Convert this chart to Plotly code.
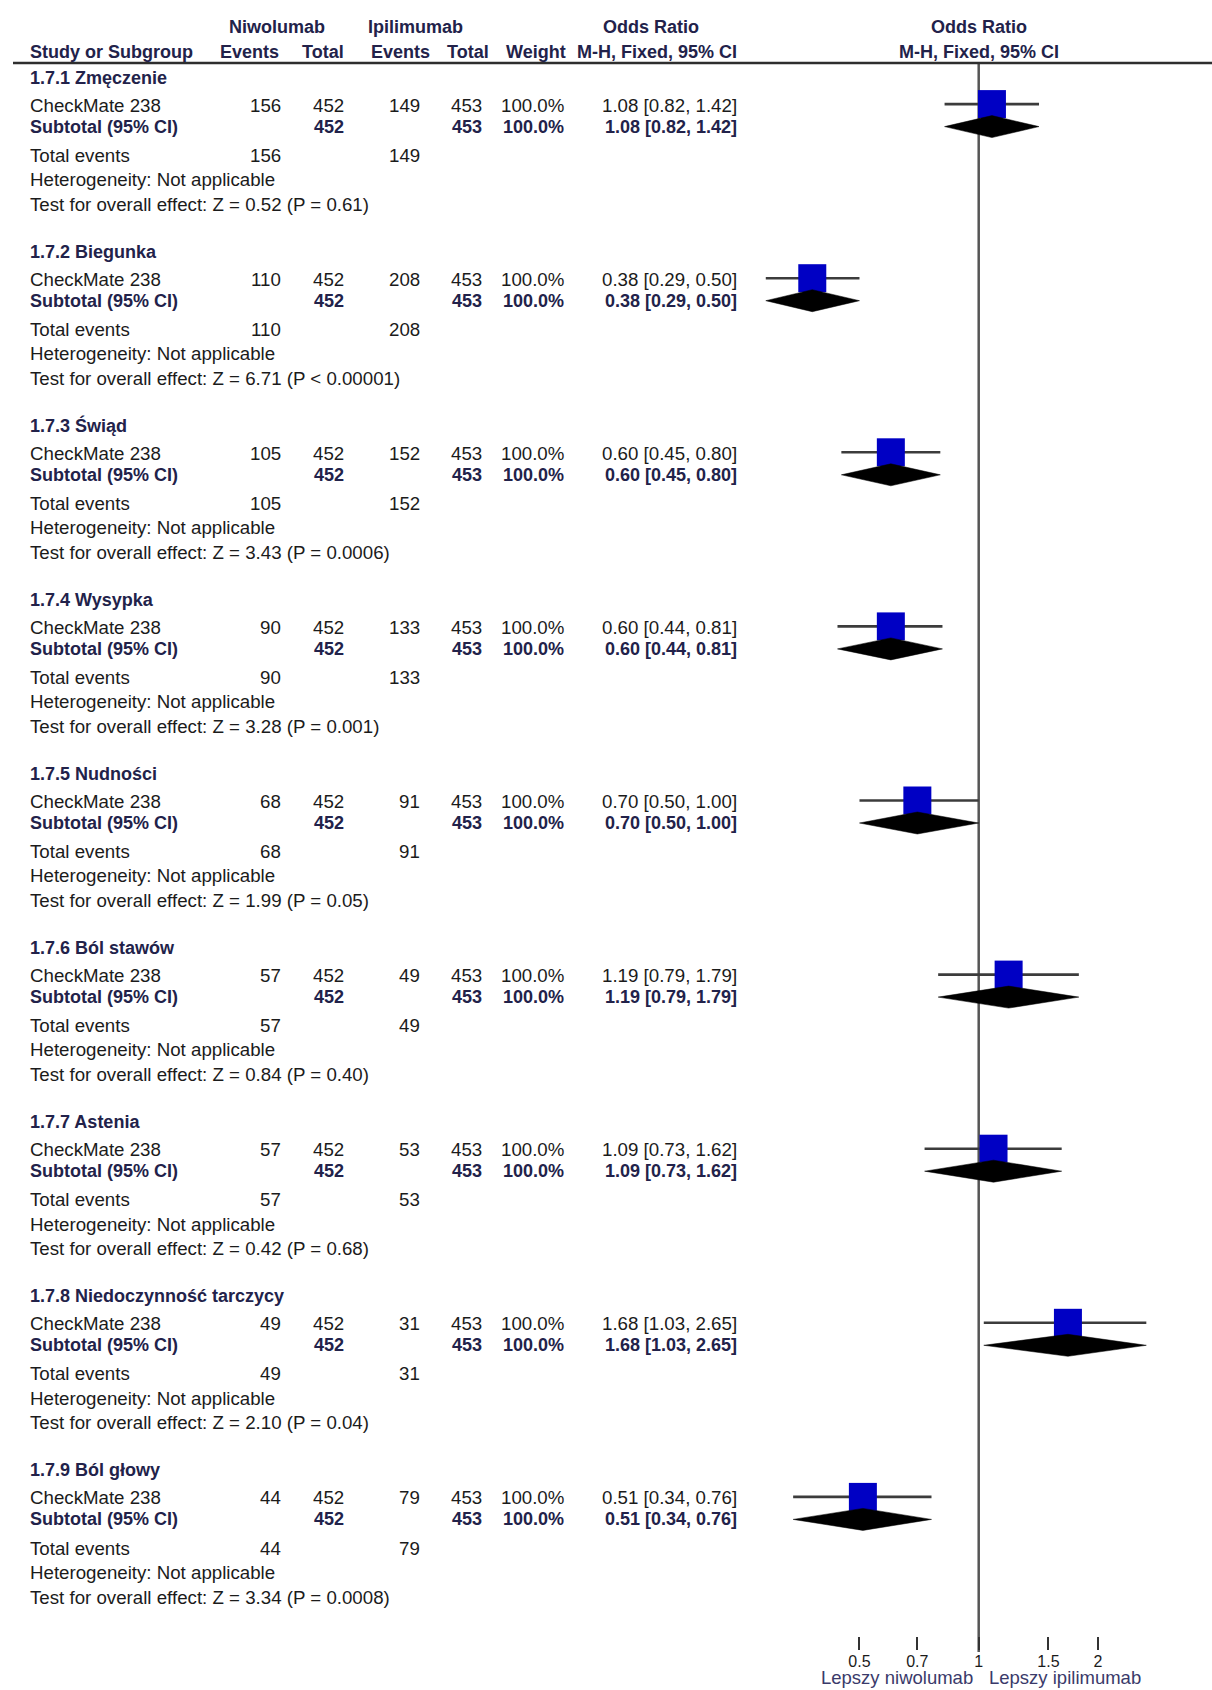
import math
import plotly.graph_objects as go

# ---------------- data ----------------
groups = ["1.7.1 Zmęczenie", "1.7.2 Biegunka", "1.7.3 Świąd", "1.7.4 Wysypka",
          "1.7.5 Nudności", "1.7.6 Ból stawów", "1.7.7 Astenia",
          "1.7.8 Niedoczynność tarczycy", "1.7.9 Ból głowy"]
study_name = "CheckMate 238"
nivo_events = [156, 110, 105, 90, 68, 57, 57, 49, 44]
nivo_total = [452, 452, 452, 452, 452, 452, 452, 452, 452]
ipi_events = [149, 208, 152, 133, 91, 49, 53, 31, 79]
ipi_total = [453, 453, 453, 453, 453, 453, 453, 453, 453]
weights = [100.0, 100.0, 100.0, 100.0, 100.0, 100.0, 100.0, 100.0, 100.0]
odds_ratio = [1.08, 0.38, 0.60, 0.60, 0.70, 1.19, 1.09, 1.68, 0.51]
ci_low = [0.82, 0.29, 0.45, 0.44, 0.50, 0.79, 0.73, 1.03, 0.34]
ci_high = [1.42, 0.50, 0.80, 0.81, 1.00, 1.79, 1.62, 2.65, 0.76]
z_values = ["0.52", "6.71", "3.43", "3.28", "1.99", "0.84", "0.42", "2.10", "3.34"]
p_values = ["P = 0.61", "P < 0.00001", "P = 0.0006", "P = 0.001", "P = 0.05",
            "P = 0.40", "P = 0.68", "P = 0.04", "P = 0.0008"]
tick_values = [0.5, 0.7, 1, 1.5, 2]
tick_labels = ["0.5", "0.7", "1", "1.5", "2"]
favours_left = "Lepszy niwolumab"
favours_right = "Lepszy ipilimumab"

# ---------------- layout constants ----------------
W, H = 1212, 1690
AXIS_Y = 1650            # pixel row of the x axis
X_ONE = 978.7            # pixel column of OR = 1
PX_PER_LN = 172.0        # pixels per natural-log unit
PX_PER_LOG10 = PX_PER_LN * math.log(10)
x_range = [(0 - X_ONE) / PX_PER_LOG10, (W - X_ONE) / PX_PER_LOG10]
one_paper = (math.log10(1) - x_range[0]) / (x_range[1] - x_range[0])

GROUP_TOP = 77.6
GROUP_STEP = 174.1
OFF_STUDY, OFF_SUB, OFF_TOT, OFF_HET, OFF_TEST = 27.5, 49.0, 77.6, 101.8, 126.6

FONT = "Liberation Sans, Arial, sans-serif"
FS_REG = 18.7
FS_BOLD = 18
TXT = "#1b1b1b"
BOLD = "#22224a"

fig = go.Figure()


def label(xpx, y, s, anchor="left", bold=False, size=None, color=None):
    fig.add_annotation(
        xref="paper", x=xpx / W, yref="y", y=y, text=("<b>%s</b>" % s) if bold else s,
        showarrow=False, xanchor=anchor, yanchor="middle",
        font=dict(family=FONT, size=size or (FS_BOLD if bold else FS_REG),
                  color=color or (BOLD if bold else TXT)),
    )


# header
label(277, 27, "Niwolumab", "center", True)
label(415, 27, "Ipilimumab", "center", True)
label(651, 27, "Odds Ratio", "center", True)
label(X_ONE, 27, "Odds Ratio", "center", True)
label(28, 51.7, "Study or Subgroup", "left", True)
label(281, 51.7, "Events", "right", True)
label(346, 51.7, "Total", "right", True)
label(432, 51.7, "Events", "right", True)
label(491, 51.7, "Total", "right", True)
label(568, 51.7, "Weight", "right", True)
label(739, 51.7, "M-H, Fixed, 95% CI", "right", True)
label(X_ONE, 51.7, "M-H, Fixed, 95% CI", "center", True)

ci_x, ci_y = [], []
sq_x, sq_y = [], []
for i, g in enumerate(groups):
    top = GROUP_TOP + GROUP_STEP * i
    ys, ysub = top + OFF_STUDY, top + OFF_SUB
    label(28, top, g, "left", True)
    # study row
    label(28, ys, study_name)
    label(283, ys, str(nivo_events[i]), "right")
    label(346, ys, str(nivo_total[i]), "right")
    label(422, ys, str(ipi_events[i]), "right")
    label(484, ys, str(ipi_total[i]), "right")
    label(566, ys, "%.1f%%" % weights[i], "right")
    ortxt = "%.2f [%.2f, %.2f]" % (odds_ratio[i], ci_low[i], ci_high[i])
    label(739, ys, ortxt, "right")
    # subtotal row
    label(28, ysub, "Subtotal (95% CI)", "left", True)
    label(346, ysub, str(nivo_total[i]), "right", True)
    label(484, ysub, str(ipi_total[i]), "right", True)
    label(566, ysub, "%.1f%%" % weights[i], "right", True)
    label(739, ysub, ortxt, "right", True)
    # totals / stats
    label(28, top + OFF_TOT, "Total events")
    label(283, top + OFF_TOT, str(nivo_events[i]), "right")
    label(422, top + OFF_TOT, str(ipi_events[i]), "right")
    label(28, top + OFF_HET, "Heterogeneity: Not applicable")
    label(28, top + OFF_TEST, "Test for overall effect: Z = %s (%s)" % (z_values[i], p_values[i]))

    ci_x += [ci_low[i], ci_high[i], None]
    ci_y += [ys - 1, ys - 1, None]
    sq_x.append(odds_ratio[i])
    sq_y.append(ys - 1)

# confidence interval lines
fig.add_trace(go.Scatter(x=ci_x, y=ci_y, mode="lines",
                         line=dict(color="#3c3c3c", width=2.6), hoverinfo="skip"))
# squares
fig.add_trace(go.Scatter(x=sq_x, y=sq_y, mode="markers",
                         marker=dict(symbol="square", size=28, color="#0000C4",
                                     line=dict(width=0)), hoverinfo="skip"))
# diamonds
for i in range(len(groups)):
    yc = GROUP_TOP + GROUP_STEP * i + OFF_SUB
    fig.add_trace(go.Scatter(
        x=[ci_low[i], odds_ratio[i], ci_high[i], odds_ratio[i], ci_low[i]],
        y=[yc, yc - 11, yc, yc + 11, yc],
        mode="lines", fill="toself", fillcolor="#000000",
        line=dict(color="#000000", width=0.5), hoverinfo="skip"))

# header rule and line of no effect
fig.add_shape(type="line", xref="paper", yref="y", x0=13 / W, x1=1, y0=63, y1=63,
              line=dict(color="#2e2e2e", width=2.5))
fig.add_shape(type="line", xref="paper", yref="paper", x0=one_paper, x1=one_paper,
              y0=(H - 63) / H, y1=(H - 1652) / H, line=dict(color="#555555", width=2.5),
              layer="below")

# favours labels
fig.add_annotation(xref="x", x=math.log10(1), yref="paper", y=(H - 1677) / H,
                   text=favours_left, showarrow=False, xanchor="right", yanchor="middle",
                   xshift=-4, font=dict(family=FONT, size=18.5, color="#3a3a6a"))
fig.add_annotation(xref="x", x=math.log10(1), yref="paper", y=(H - 1677) / H,
                   text=favours_right, showarrow=False, xanchor="left", yanchor="middle",
                   xshift=8, font=dict(family=FONT, size=18.5, color="#3a3a6a"))

fig.update_layout(
    width=W, height=H, margin=dict(l=0, r=0, t=0, b=0),
    paper_bgcolor="white", plot_bgcolor="white", showlegend=False,
    xaxis=dict(type="log", range=x_range, domain=[0, 1], tickvals=tick_values,
               ticktext=tick_labels, ticks="inside", ticklen=13, tickwidth=1.6,
               tickcolor="#333333", showgrid=False, zeroline=False, showline=False,
               tickfont=dict(family=FONT, size=16, color="#1b1b1b"), fixedrange=True),
    yaxis=dict(range=[AXIS_Y, 0], domain=[(H - AXIS_Y) / H, 1], visible=False,
               fixedrange=True),
)

fig.write_html("out.html", config={"displayModeBar": False},
               post_script="document.body.style.margin='0px';document.body.style.overflow='hidden';")
